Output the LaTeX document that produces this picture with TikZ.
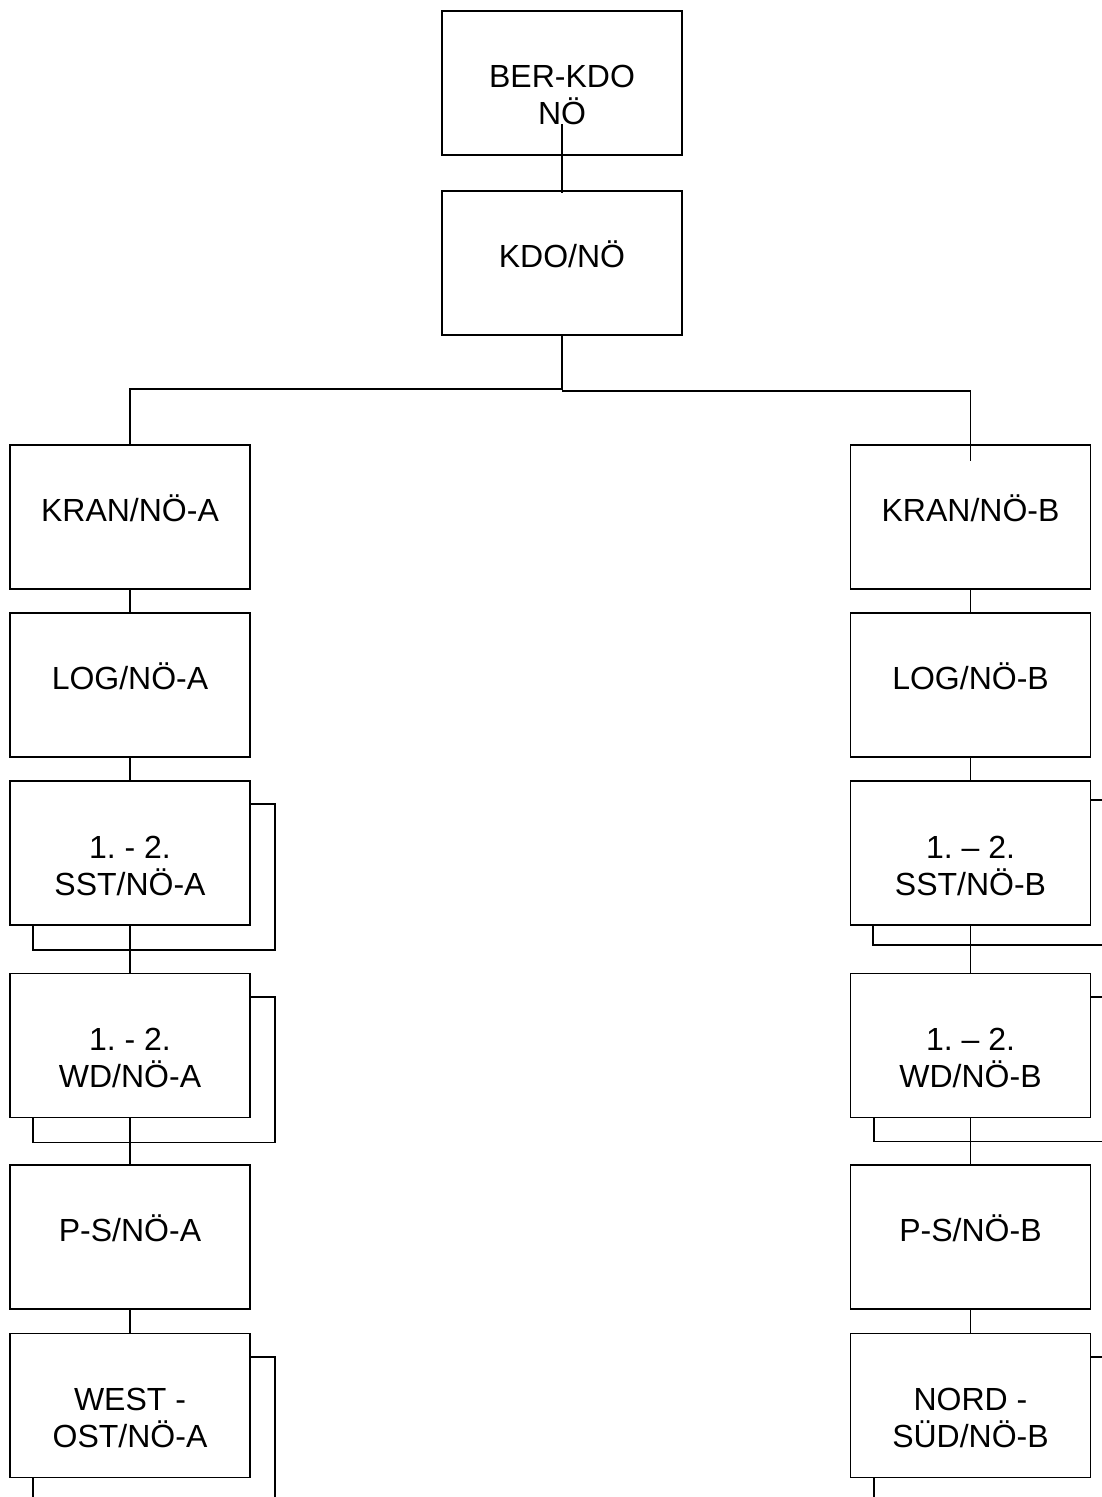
\documentclass[tikz,border=0pt]{standalone}
\usepackage{fontspec}
\setmainfont{Liberation Sans}
\usetikzlibrary{calc}
\frenchspacing
\tikzset{
  box/.style={draw, line width=1.9pt, inner sep=0pt, minimum width=240pt, minimum height=144pt},
  lbl/.style={anchor=base, inner sep=0pt, font=\fontsize{32}{37}\selectfont},
  conn/.style={line width=1.9pt},
}
\begin{document}
\begin{tikzpicture}[x=1pt,y=-1pt]
\useasboundingbox (0,0) rectangle (1102,1497);
\clip (0,0) rectangle (1102,1497);
% top boxes
\node[box] (ber) at (562,83) {};
\node[box] (kdo) at (562,263) {};
% left column
\node[box] (kranA) at (130,517) {};
\node[box] (logA) at (130,685) {};
\node[box] (sstA) at (130,853) {};
\node[box] (wdA) at (130,1045.5) {};
\node[box] (psA) at (130,1237) {};
\node[box] (westA) at (130,1405.5) {};
% right column
\node[box] (kranB) at (970.5,517) {};
\node[box] (logB) at (970.5,685) {};
\node[box] (sstB) at (970.5,853) {};
\node[box] (wdB) at (970.5,1045.5) {};
\node[box] (psB) at (970.5,1237) {};
\node[box] (nordB) at (970.5,1405.5) {};
% labels
\node[lbl] (t1) at ($(ber.north)+(0,77)$) {BER-KDO};
\node[lbl] (t1b) at ($(ber.north)+(0,114)$) {NÖ};
\node[lbl] (t2) at ($(kdo.north)+(0,77)$) {KDO/NÖ};
\node[lbl] (t3) at ($(kranA.north)+(0,77)$) {KRAN/NÖ-A};
\node[lbl] (t4) at ($(logA.north)+(0,77)$) {LOG/NÖ-A};
\node[lbl] (t5) at ($(sstA.north)+(0,78)$) {1. - 2.};
\node[lbl] (t5b) at ($(sstA.north)+(0,115)$) {SST/NÖ-A};
\node[lbl] (t6) at ($(wdA.north)+(0,78)$) {1. - 2.};
\node[lbl] (t6b) at ($(wdA.north)+(0,115)$) {WD/NÖ-A};
\node[lbl] (t7) at ($(psA.north)+(0,77)$) {P-S/NÖ-A};
\node[lbl] (t8) at ($(westA.north)+(0,78)$) {WEST -};
\node[lbl] (t8b) at ($(westA.north)+(0,115)$) {OST/NÖ-A};
\node[lbl] (t9) at ($(kranB.north)+(0,77)$) {KRAN/NÖ-B};
\node[lbl] (t10) at ($(logB.north)+(0,77)$) {LOG/NÖ-B};
\node[lbl] (t11) at ($(sstB.north)+(0,78)$) {1. – 2.};
\node[lbl] (t11b) at ($(sstB.north)+(0,115)$) {SST/NÖ-B};
\node[lbl] (t12) at ($(wdB.north)+(0,78)$) {1. – 2.};
\node[lbl] (t12b) at ($(wdB.north)+(0,115)$) {WD/NÖ-B};
\node[lbl] (t13) at ($(psB.north)+(0,77)$) {P-S/NÖ-B};
\node[lbl] (t14) at ($(nordB.north)+(0,78)$) {NORD -};
\node[lbl] (t14b) at ($(nordB.north)+(0,115)$) {SÜD/NÖ-B};
% shadows (left)
\draw[conn] ($(sstA.north east)+(0,24)$) -- ++(24,0) -- ($(sstA.south east)+(24,24)$) -- ($(sstA.south west)+(24,24)$) -- ($(sstA.south west)+(24,0)$);
\draw[conn] ($(wdA.north east)+(0,24)$) -- ++(24,0) -- ($(wdA.south east)+(24,24)$) -- ($(wdA.south west)+(24,24)$) -- ($(wdA.south west)+(24,0)$);
\draw[conn] ($(westA.north east)+(0,24)$) -- ++(24,0) -- ($(westA.south east)+(24,24)$) -- ($(westA.south west)+(24,24)$) -- ($(westA.south west)+(24,0)$);
% shadows (right)
\draw[conn] ($(sstB.north east)+(0,20)$) -- ++(24,0) -- ($(sstB.south east)+(24,19)$) -- ($(sstB.south west)+(23,19)$) -- ($(sstB.south west)+(23,0)$);
\draw[conn] ($(wdB.north east)+(0,24)$) -- ++(24,0) -- ($(wdB.south east)+(24,23)$) -- ($(wdB.south west)+(24,23)$) -- ($(wdB.south west)+(24,0)$);
\draw[conn] ($(nordB.north east)+(0,24)$) -- ++(24,0) -- ($(nordB.south east)+(24,24)$) -- ($(nordB.south west)+(24,24)$) -- ($(nordB.south west)+(24,0)$);
% connectors
\coordinate (jl) at (562,389);
\coordinate (jr) at (562,391);
\coordinate (kbEnd) at ($(kranB.north)+(0,17)$);
\draw[conn] ($(ber.south)+(0,-32)$) -- ($(kdo.north)+(0,3)$);
\draw[conn] (kdo.south) -- (jl) -| (kranA.north);
\draw[conn] (jr) -| (kbEnd);
\draw[conn] (kranA.south) -- (logA.north);
\draw[conn] (logA.south) -- (sstA.north);
\draw[conn] (sstA.south) -- (wdA.north);
\draw[conn] (wdA.south) -- (psA.north);
\draw[conn] (psA.south) -- (westA.north);
\draw[conn] (kranB.south) -- (logB.north);
\draw[conn] (logB.south) -- (sstB.north);
\draw[conn] (sstB.south) -- (wdB.north);
\draw[conn] (wdB.south) -- (psB.north);
\draw[conn] (psB.south) -- (nordB.north);
\end{tikzpicture}
\end{document}
